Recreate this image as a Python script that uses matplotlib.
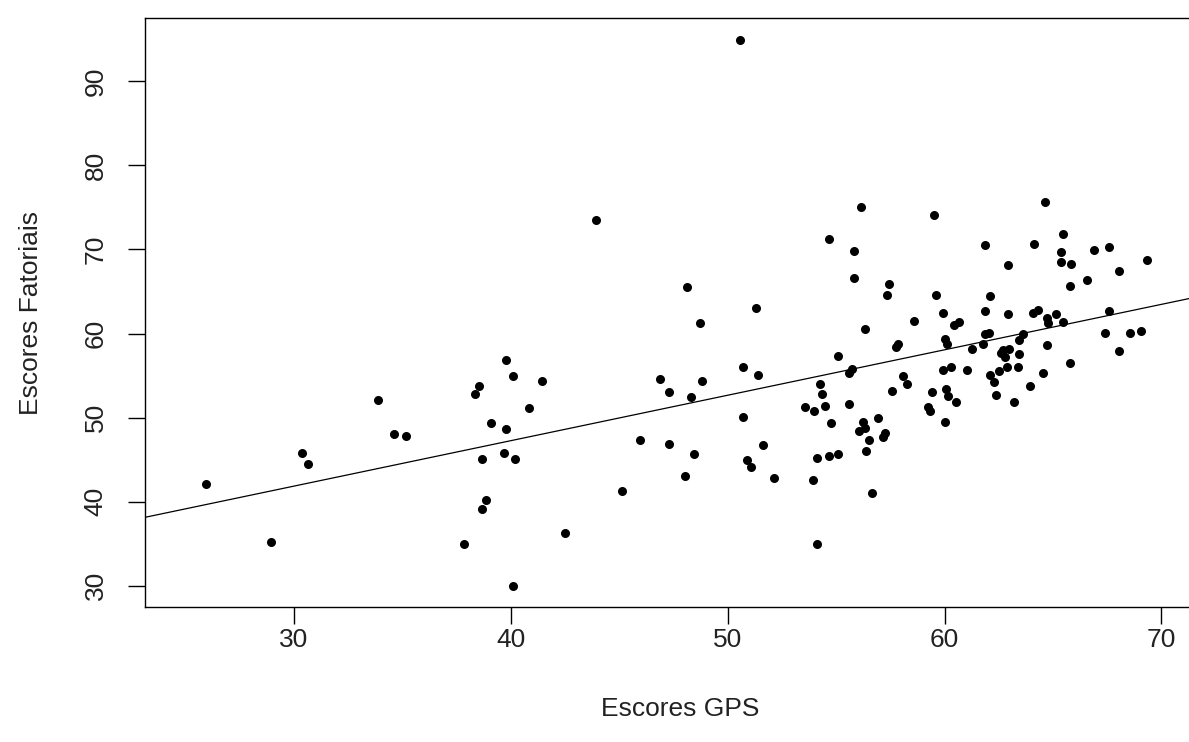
import matplotlib
matplotlib.use('Agg')
import matplotlib.pyplot as plt

# GPS scores (x) and factor scores (y), one pair per respondent
gps = [25.93, 28.94, 30.39, 30.64, 33.89, 34.63, 35.15,
       43.94, 39.76, 40.10, 38.52, 38.34, 41.44, 40.84, 48.12, 48.71, 46.86,
       47.28, 48.29, 48.80, 39.09, 39.76, 38.66, 39.67, 40.18, 38.84, 38.66,
       37.83, 40.09, 42.51, 45.11, 45.94, 47.28, 48.46, 48.04,
       50.55, 56.16, 59.51, 54.66, 55.82, 55.82, 57.42, 57.34, 59.59, 51.30,
       59.94, 58.59,
       56.32, 60.02, 60.10, 57.76, 57.87, 55.07, 50.72, 51.40, 55.73, 55.58,
       59.94, 58.08, 58.27, 60.06, 60.16, 59.43, 57.57, 54.24, 54.33, 54.50,
       53.56, 53.99, 55.58, 59.25, 59.34, 60.00, 50.72, 54.75, 56.24, 56.33,
       56.07, 56.92, 57.25, 57.14, 56.51, 56.40, 51.64, 50.89, 51.06, 52.15,
       54.13, 54.66, 55.07, 53.92, 56.65, 54.13,
       64.63, 65.46, 61.86, 64.12, 66.89, 67.57, 65.38, 65.35, 65.81, 69.32,
       62.94, 68.05, 66.55, 65.80, 62.11, 61.86, 62.94, 64.10, 64.30, 64.71,
       65.12, 64.78, 65.44, 67.57, 60.43, 60.66, 61.86, 62.05, 61.76, 61.27,
       63.63, 63.45, 64.71, 62.71, 62.97, 62.59, 62.80, 63.45, 67.38, 68.56,
       69.05, 68.05, 65.80,
       60.30, 61.02, 60.51, 62.09, 62.28, 62.53, 62.86, 63.37, 62.37, 63.20,
       63.94, 64.54]
fatoriais = [42.1, 35.2, 45.8, 44.5, 52.1, 48.0, 47.8,
             73.5, 56.8, 54.9, 53.8, 52.8, 54.4, 51.1, 65.5, 61.2, 54.6,
             53.0, 52.5, 54.3, 49.3, 48.6, 45.1, 45.8, 45.1, 40.2, 39.1,
             35.0, 30.0, 36.3, 41.3, 47.3, 46.9, 45.6, 43.0,
             94.9, 75.0, 74.1, 71.3, 69.8, 66.6, 65.9, 64.6, 64.6, 63.0,
             62.4, 61.5,
             60.5, 59.3, 58.7, 58.4, 58.7, 57.3, 56.0, 55.1, 55.8, 55.3,
             55.7, 54.9, 54.0, 53.4, 52.6, 53.0, 53.2, 54.0, 52.8, 51.4,
             51.2, 50.8, 51.6, 51.2, 50.8, 49.5, 50.1, 49.3, 49.5, 48.7,
             48.4, 49.9, 48.2, 47.7, 47.3, 46.0, 46.7, 45.0, 44.1, 42.8,
             45.2, 45.4, 45.6, 42.6, 41.0, 35.0,
             75.7, 71.8, 70.5, 70.7, 69.9, 70.3, 69.7, 68.5, 68.3, 68.8,
             68.1, 67.4, 66.4, 65.7, 64.5, 62.7, 62.3, 62.5, 62.8, 61.9,
             62.3, 61.2, 61.4, 62.7, 61.0, 61.4, 59.9, 60.1, 58.8, 58.2,
             59.9, 59.2, 58.6, 58.0, 58.1, 57.7, 57.2, 57.6, 60.1, 60.1,
             60.3, 57.9, 56.5,
             56.0, 55.7, 51.8, 55.1, 54.2, 55.5, 56.0, 56.0, 52.7, 51.8,
             53.8, 55.3]

# fitted line y = a + b*x
intercept = 25.6
slope = 0.541

xticks = [30, 40, 50, 60, 70]
yticks = [30, 40, 50, 60, 70, 80, 90]

plt.rcParams['font.family'] = 'Liberation Sans'

fig = plt.figure(figsize=(11.89, 7.42), dpi=100)
ax = fig.add_axes([145 / 1189, 1 - 606.7 / 742, 1070.7 / 1189, 588.4 / 742])

ax.plot(gps, fatoriais, 'o', color='black', markersize=6.5, markeredgewidth=0)
ax.axline((0, intercept), slope=slope, color='black', linewidth=0.9)

ax.set_xlim(23.14, 72.5)
ax.set_ylim(27.48, 97.52)
ax.set_xticks(xticks)
ax.set_yticks(yticks)
ax.set_yticklabels([str(v) for v in yticks], rotation=90, va='center')

for s in ax.spines.values():
    s.set_linewidth(1.0)
ax.tick_params(axis='both', length=12, width=1.0, labelsize=19, color='black',
               labelcolor='#222222')
ax.tick_params(axis='x', pad=3)
ax.tick_params(axis='y', pad=15)

ax.set_xlabel('Escores GPS', fontsize=19, labelpad=33, color='#222222')
ax.set_ylabel('Escores Fatoriais', fontsize=19, labelpad=29, color='#222222')

fig.savefig('out.png', dpi=100)
